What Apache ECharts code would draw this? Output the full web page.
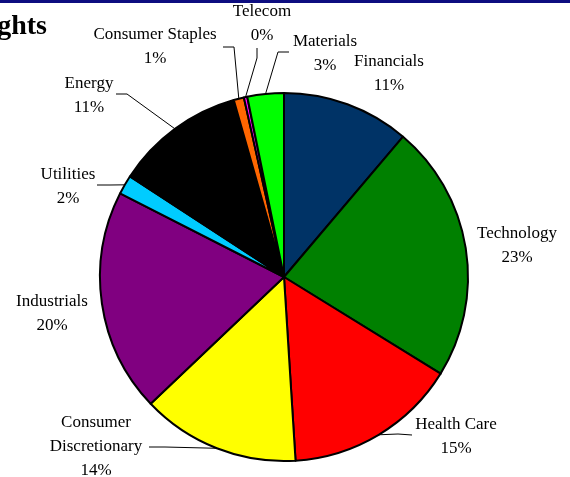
<!DOCTYPE html>
<html>
<head>
<meta charset="utf-8">
<style>
  html, body { margin: 0; padding: 0; background: #ffffff; }
  #chart { width: 570px; height: 477px; }
</style>
<script src="https://cdn.jsdelivr.net/npm/echarts@6/dist/echarts.min.js"></script>
</head>
<body>
<div id="chart"></div>
<script>
// ---- data ----
var categories = ['Financials', 'Technology', 'Health Care', 'Consumer\nDiscretionary', 'Industrials', 'Utilities', 'Energy', 'Consumer Staples', 'Telecom', 'Materials'];
var weights = [11.2, 22.6, 15.2, 13.9, 19.6, 1.7, 11.4, 0.9, 0.3, 3.2];
var sliceColors = ['#003366', '#008000', '#ff0000', '#ffff00', '#800080', '#00ccff', '#000000', '#ff6600', '#ff00ff', '#00ff00'];
var titleText = 'Sector Weights';

// ---- label placement (layout only) ----
var labelPos = [
  { x: 389, y: 74 },
  { x: 517, y: 246 },
  { x: 456, y: 437 },
  { x: 96,  y: 447 },
  { x: 52,  y: 314 },
  { x: 68,  y: 187 },
  { x: 89,  y: 96 },
  { x: 155, y: 47 },
  { x: 262, y: 24 },
  { x: 325, y: 54 }
];
var linePts = [
  null,
  null,
  [[398, 434], [412, 435]],
  [[165, 447], [149, 447]],
  null,
  [[110, 185], [97, 185]],
  [[127, 94], [116, 94]],
  [[234, 47], [223, 47]],
  [[257, 58], [257, 48]],
  [[278, 52], [289, 52]]
];

var chart = echarts.init(document.getElementById('chart'), null, { renderer: 'canvas' });

var seriesData = categories.map(function (name, i) {
  return {
    name: name,
    value: weights[i],
    itemStyle: { color: sliceColors[i] },
    labelLine: { show: linePts[i] !== null }
  };
});

chart.setOption({
  animation: false,
  backgroundColor: '#ffffff',
  graphic: [
    { type: 'rect', left: 0, top: 0, shape: { x: 0, y: 0, width: 570, height: 3 }, style: { fill: '#0d0d80' } },
    { type: 'text', style: { x: 47, y: 27, text: titleText, textAlign: 'right', textVerticalAlign: 'middle', font: 'bold 28px "Liberation Serif"', fill: '#000000' } }
  ],
  series: [{
    type: 'pie',
    center: [284, 277],
    radius: 184,
    startAngle: 90,
    clockwise: true,
    avoidLabelOverlap: false,
    data: seriesData,
    itemStyle: { borderColor: '#000000', borderWidth: 2 },
    label: {
      show: true,
      position: 'outside',
      fontFamily: 'Liberation Serif',
      fontSize: 17,
      lineHeight: 24,
      color: '#000000',
      align: 'center',
      formatter: function (p) { return p.name + '\n' + Math.round(p.value) + '%'; }
    },
    labelLine: { lineStyle: { color: '#000000', width: 1 } },
    labelLayout: function (params) {
      var i = params.dataIndex;
      var res = { x: labelPos[i].x, y: labelPos[i].y, align: 'center', verticalAlign: 'middle' };
      if (linePts[i] && params.labelLinePoints) {
        var p0 = params.labelLinePoints[0];
        res.labelLinePoints = [[p0[0], p0[1]], linePts[i][0], linePts[i][1]];
      }
      return res;
    }
  }]
});
</script>
</body>
</html>
